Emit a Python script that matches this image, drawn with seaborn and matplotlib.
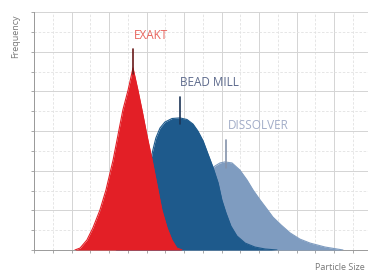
import matplotlib
matplotlib.use("Agg")
import matplotlib.pyplot as plt
import seaborn as sns
import numpy as np
import pandas as pd
from matplotlib.ticker import MultipleLocator

# Data (x: particle size units, y: frequency units)
exakt_x = [1.09, 1.23, 1.41, 1.57, 1.76, 1.92, 2.11, 2.24, 2.37, 2.51, 2.64,
           2.77, 2.88, 3.01, 3.15, 3.28, 3.41, 3.55, 3.68, 3.81, 3.95]
exakt_y = [0.0, 0.10, 0.50, 1.11, 2.02, 3.03, 4.54, 5.80, 7.06, 8.07, 9.18,
           8.07, 7.06, 5.80, 4.54, 3.28, 2.02, 1.11, 0.50, 0.10, 0.0]

bead_x = [2.16, 2.43, 2.69, 2.96, 3.09, 3.17, 3.25, 3.36, 3.49, 3.68, 3.89,
          4.08, 4.24, 4.37, 4.51, 4.64, 4.77, 4.91, 5.01, 5.12, 5.25, 5.41,
          5.63, 5.89, 6.16, 6.48]
bead_y = [0.0, 0.25, 1.01, 2.77, 4.29, 5.04, 5.65, 6.15, 6.45, 6.63, 6.66,
          6.58, 6.35, 6.00, 5.50, 4.84, 4.19, 3.38, 2.52, 1.87, 1.21, 0.71,
          0.35, 0.15, 0.05, 0.0]

diss_x = [3.09, 3.49, 3.89, 4.29, 4.56, 4.69, 4.83, 4.96, 5.09, 5.28, 5.49,
          5.68, 5.84, 6.03, 6.21, 6.37, 6.59, 6.83, 7.09, 7.36, 7.76, 8.24]
diss_y = [0.0, 0.50, 1.26, 2.52, 3.73, 4.03, 4.24, 4.39, 4.44, 4.39, 4.03,
          3.53, 3.03, 2.52, 2.07, 1.66, 1.26, 0.86, 0.55, 0.35, 0.15, 0.0]

names = ["EXAKT", "BEAD MILL", "DISSOLVER"]
peak_x = [2.64, 3.89, 5.12]
peak_top = [10.14, 7.72, 5.55]
label_x = [3.12, 4.67, 5.97]
label_y = [10.84, 8.47, 6.30]

fill_colors = ["#e31f26", "#1e5a8c", "#7f9cc0"]
marker_colors = ["#6a1a1a", "#1c3556", "#8492aa"]
label_colors = ["#e8655e", "#5d6a8c", "#a2adc8"]

sns.set_style("white")
fig = plt.figure(figsize=(3.68, 2.74), dpi=100)
ax = fig.add_axes([34 / 368, 24 / 274, 337.5 / 368, 238 / 274])

series = [(exakt_x, exakt_y), (bead_x, bead_y), (diss_x, diss_y)]
zorders = [5, 4, 3]
for (xs, ys), c, z in zip(series, fill_colors, zorders):
    ax.fill_between(xs, ys, 0, color=c, lw=0, zorder=z)
    df = pd.DataFrame({"x": xs, "y": ys})
    sns.lineplot(data=df, x="x", y="y", ax=ax, color=c, lw=0.8, zorder=z,
                 sort=False, estimator=None)

for px, pt, ys, c, z in zip(peak_x, peak_top, [exakt_y, bead_y, diss_y],
                            marker_colors, zorders):
    ax.plot([px, px], [max(ys) - 0.3, pt], color=c, lw=1.2, zorder=z + 0.5)

for n, lx, ly, c in zip(names, label_x, label_y, label_colors):
    ax.text(lx, ly, n, color=c, fontsize=8.5, ha="center", va="center",
            family="Open Sans", zorder=10)

ax.set_xlim(0, 9)
ax.set_ylim(0, 12)
ax.xaxis.set_major_locator(MultipleLocator(1))
ax.xaxis.set_minor_locator(MultipleLocator(0.5))
ax.yaxis.set_major_locator(MultipleLocator(2))
ax.yaxis.set_minor_locator(MultipleLocator(1))
ax.grid(which="major", color="#d4d4d4", lw=0.7, zorder=0)
ax.grid(which="minor", color="#e2e2e2", lw=0.6, ls=(0, (3, 2)), zorder=0)
ax.set_axisbelow(True)
ax.tick_params(which="both", direction="out", length=2, width=0.6,
               color="#9a9a9a", labelbottom=False, labelleft=False,
               bottom=True, left=True)
ax.set_xlabel("")
ax.set_ylabel("")
for s in ["top", "right"]:
    ax.spines[s].set_visible(False)
for s in ["left", "bottom"]:
    ax.spines[s].set_color("#9a9a9a")
    ax.spines[s].set_linewidth(0.7)

fig.text(16 / 368, 1 - 36 / 274, "Frequency", rotation=90, fontsize=6.5,
         color="#777777", ha="center", va="center", family="Open Sans")
fig.text(365 / 368, 1 - 268 / 274, "Particle Size", fontsize=6.5,
         color="#777777", ha="right", va="center", family="Open Sans")

fig.savefig("out.png", dpi=100)
